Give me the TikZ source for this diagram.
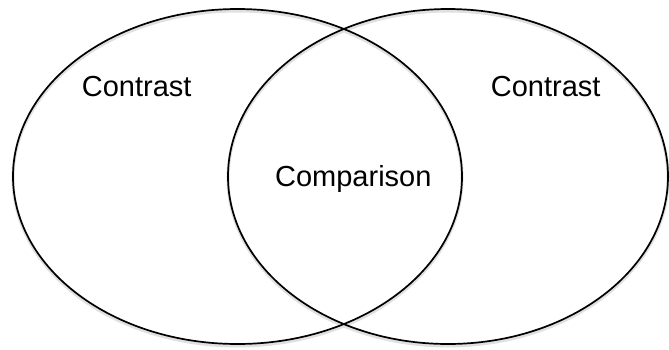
\documentclass[tikz,border=0pt]{standalone}
\usepackage{fontspec}
\setmainfont{Liberation Sans}
\usetikzlibrary{shapes.geometric}
\begin{document}
\begin{tikzpicture}[x=1pt,y=1pt,
  venn/.style={ellipse,draw=black,line width=1.7pt,inner sep=0pt,outer sep=0pt},
  shade/.style={ellipse,draw=black!12,line width=3pt,inner sep=0pt,outer sep=0pt},
  lbl/.style={font=\fontsize{29}{34}\selectfont,anchor=base,inner sep=0pt}]
\useasboundingbox (0,0) rectangle (669,-349);
\node[shade,minimum width=449pt,minimum height=335pt] (Ls) at (237.5,-178.5) {};
\node[shade,minimum width=440pt,minimum height=335pt] (Rs) at (448,-178.5) {};
\node[venn,minimum width=449pt,minimum height=335pt] (L) at (237.5,-176.5) {};
\node[venn,minimum width=440pt,minimum height=335pt] (R) at (448,-176.5) {};
\node[lbl] (c1) at (136.7,-96.5) {Contrast};
\node[lbl] (c2) at (545.7,-96.5) {Contrast};
\node[lbl] (cmp) at (353.3,-186.5) {Comparison};
\end{tikzpicture}
\end{document}
